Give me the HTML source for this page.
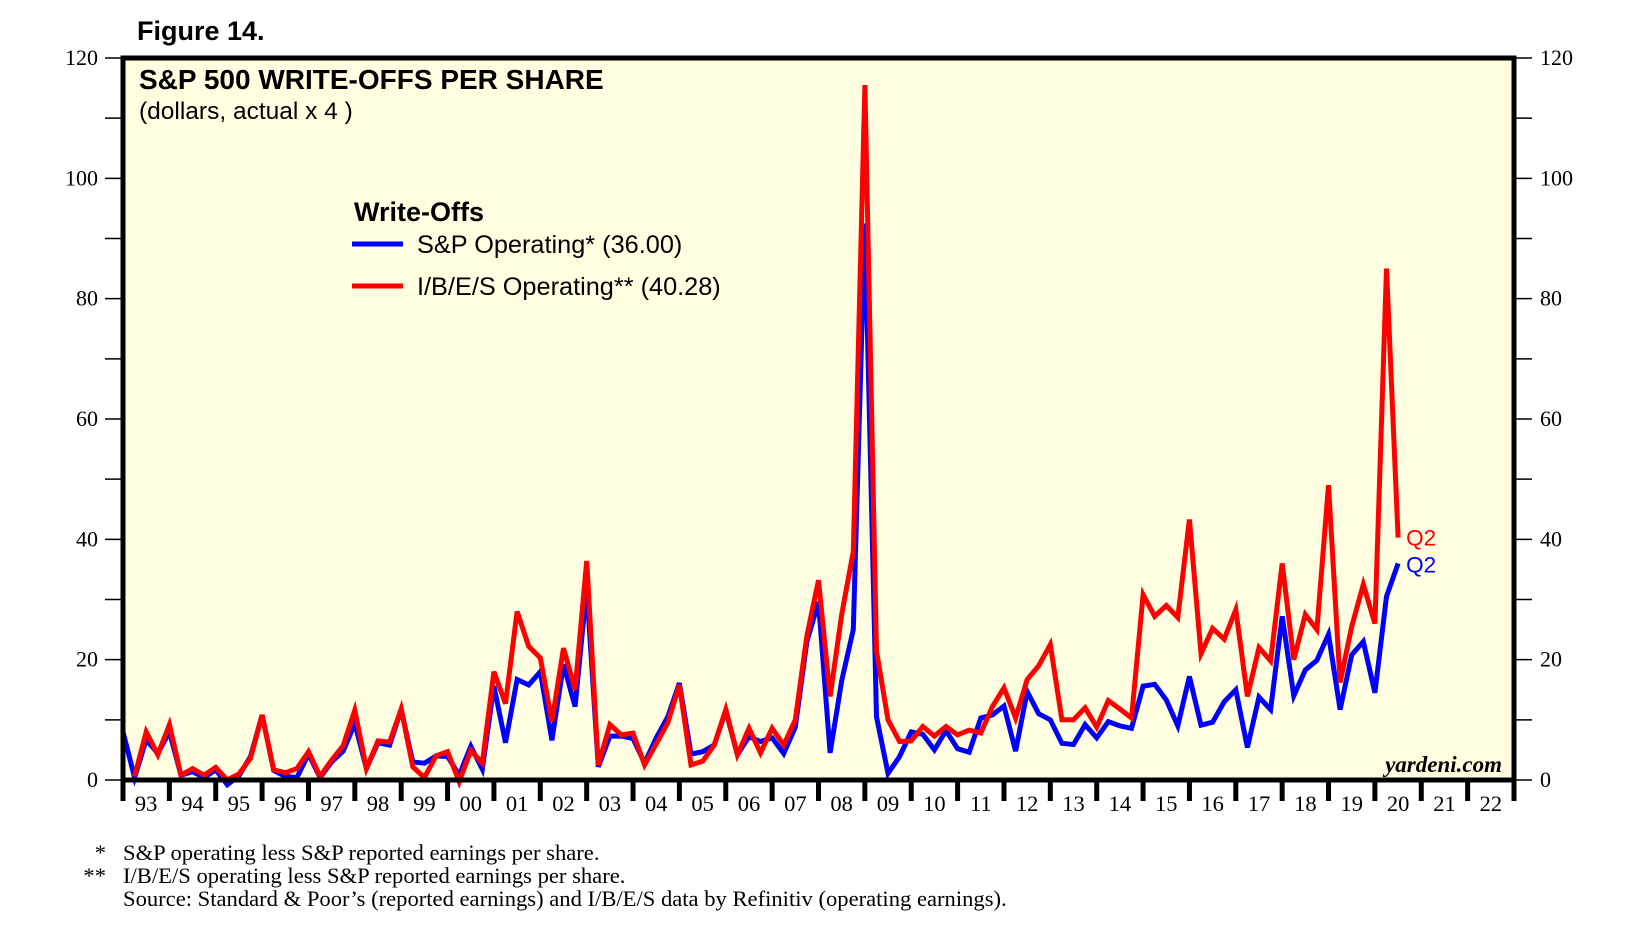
<!DOCTYPE html>
<html><head><meta charset="utf-8"><style>
body{margin:0;background:#fff;width:1638px;height:942px;overflow:hidden}
svg{display:block}
</style></head><body>
<svg id="chart" width="1638" height="942" xmlns="http://www.w3.org/2000/svg">
<text x="137" y="40" font-family="Liberation Sans, sans-serif" font-weight="bold" font-size="27">Figure 14.</text>
<rect x="123" y="58" width="1391" height="722" fill="#FFFEE0"/>
<g id="grid"></g>
<g id="series"></g>
<rect x="123" y="58" width="1391" height="722" fill="none" stroke="#000" stroke-width="5"/>
<text x="139" y="89" font-family="Liberation Sans, sans-serif" font-weight="bold" font-size="28">S&amp;P 500 WRITE-OFFS PER SHARE</text>
<text x="139" y="119" font-family="Liberation Sans, sans-serif" font-size="24.5">(dollars, actual x 4 )</text>
<text x="354" y="221" font-family="Liberation Sans, sans-serif" font-weight="bold" font-size="27">Write-Offs</text>
<line x1="352" y1="244" x2="403" y2="244" stroke="#0000FF" stroke-width="5"/>
<text x="417" y="253" font-family="Liberation Sans, sans-serif" font-size="25.3">S&amp;P Operating* (36.00)</text>
<line x1="352" y1="286" x2="403" y2="286" stroke="#FF0000" stroke-width="5"/>
<text x="417" y="295" font-family="Liberation Sans, sans-serif" font-size="25.3">I/B/E/S Operating** (40.28)</text>
<text x="1502" y="772" text-anchor="end" font-family="Liberation Serif, serif" font-style="italic" font-weight="bold" font-size="23">yardeni.com</text>
<g font-family="Liberation Serif, serif" font-size="22.6">
<text x="106" y="860" text-anchor="end">*</text>
<text x="123" y="860">S&amp;P operating less S&amp;P reported earnings per share.</text>
<text x="106" y="883" text-anchor="end">**</text>
<text x="123" y="883">I/B/E/S operating less S&amp;P reported earnings per share.</text>
<text x="123" y="906">Source: Standard &amp; Poor’s (reported earnings) and I/B/E/S data by Refinitiv (operating earnings).</text>
</g>
</svg>
<script>
const yearLabels = ["93","94","95","96","97","98","99","00","01","02","03","04","05","06","07","08","09","10","11","12","13","14","15","16","17","18","19","20","21","22"];
const yTicks = [0,20,40,60,80,100,120];
// quarterly values starting 1992 Q4 through 2020 Q2
const spOperating = [8.0,
0.4,6.7,4.4,8.0, 0.8,1.4,0.4,1.7, -0.8,0.7,3.9,10.8, 1.6,0.6,0.4,4.3,
0.4,3,4.8,9.4, 1.9,6.2,5.8,11.7, 3,2.8,4,3.9, 0.8,5.6,1.8,15.6,
6.2,16.7,15.8,18, 6.6,19.2,12.2,32, 2.2,7.3,7.3,6.9, 2.8,7,10.5,16.1,
4.3,4.7,5.8,11.5, 4.2,7.2,6.4,7, 4.4,8.8,23,29.6, 4.5,16.5,25,92.5,
10.5,1.1,3.9,8, 7.6,5,8.2,5.2, 4.6,10.3,10.8,12.3, 4.8,14.7,11,10,
6.1,5.9,9.2,7, 9.7,9,8.6,15.6, 15.9,13.3,9,17.2, 9.1,9.6,13,15,
5.4,13.8,11.7,27.2, 14,18.3,19.9,24.2, 11.7,20.8,23,14.5, 30.5,36];
const ibesOperating = [null,
0.6,8.0,4.2,9.2, 0.8,1.9,0.8,2.1, 0,1,3.6,10.8, 1.7,1.2,1.9,4.7,
0.6,3.3,5.7,11.6, 1.9,6.5,6.3,11.8, 2.2,0.4,4,4.7, -0.3,4.9,2.8,18,
12.7,28,22.2,20.3, 9.7,21.9,15,36.4, 2.5,9.2,7.5,7.8, 2.5,6,9.5,15.8,
2.5,3.1,5.8,11.7, 4.2,8.6,4.5,8.6, 5.8,10,24,33.2, 13.9,27.5,38,115.5,
21.4,10,6.4,6.5, 8.9,7.3,8.9,7.5, 8.3,7.8,12.2,15.3, 10.3,16.7,19,22.5,
10,10,12,8.8, 13.2,11.8,10.3,30.8, 27.2,29,27,43.3, 21,25.2,23.4,28.3,
13.9,22,19.8,36, 20,27.5,25,49, 16.2,25.5,32.5,26, 85,40.28];

const NS='http://www.w3.org/2000/svg';
const L=123,R=1514,T=58,B=780,NY=30;
const yearW=(R-L)/NY;
const xq=i=>L+i*yearW/4;
const yv=v=>B-(v/120)*(B-T);
function mk(tag,attrs,parent){const e=document.createElementNS(NS,tag);for(const k in attrs)e.setAttribute(k,attrs[k]);parent.appendChild(e);return e;}
const svg=document.getElementById('chart');
for(let v=0;v<=120;v+=10){
  const y=yv(v);
  const a=mk('line',{x1:105,y1:y,x2:L,y2:y,stroke:'#000','stroke-width':1.5},svg);
  
  
  const b=mk('line',{x1:R,y1:y,x2:1532,y2:y,stroke:'#000','stroke-width':1.5},svg);
  
  
}
yTicks.forEach(v=>{
  const y=yv(v)+7;
  const a=mk('text',{x:98,y:y,'text-anchor':'end','font-family':'Liberation Serif, serif','font-size':22},svg);
  a.textContent=v;
  
  
  const b=mk('text',{x:1540,y:y,'font-family':'Liberation Serif, serif','font-size':22},svg);
  b.textContent=v;
  
  
});
for(let k=0;k<=NY;k++){
  const x=L+k*yearW;
  const s=mk('line',{x1:x,y1:B,x2:x,y2:801,stroke:'#000','stroke-width':5},svg);
  
  
}
yearLabels.forEach((lab,k)=>{
  const t=mk('text',{x:L+(k+0.5)*yearW,y:811,'text-anchor':'middle','font-family':'Liberation Serif, serif','font-size':22.5},svg);
  t.textContent=lab;
  
  
});
const g=document.getElementById('series');
function path(arr){let d='',pen=false;arr.forEach((v,i)=>{if(v===null){pen=false;return;}d+=(pen?'L':'M')+xq(i).toFixed(1)+','+yv(v).toFixed(1);pen=true;});return d;}
const pb=mk('path',{d:path(spOperating),fill:'none',stroke:'#0000FF','stroke-width':5,'stroke-linejoin':'miter'},g);


const pr=mk('path',{d:path(ibesOperating),fill:'none',stroke:'#FF0000','stroke-width':5,'stroke-linejoin':'miter'},g);


const lastI=spOperating.length-1;
const qr=mk('text',{x:xq(lastI)+8,y:yv(ibesOperating[lastI])+8,'font-family':'Liberation Sans, sans-serif','font-size':22.5,fill:'#FF0000'},svg);
qr.textContent='Q2';


const qb=mk('text',{x:xq(lastI)+8,y:yv(spOperating[lastI])+9,'font-family':'Liberation Sans, sans-serif','font-size':22.5,fill:'#0000FF'},svg);
qb.textContent='Q2';


</script>
</body></html>
